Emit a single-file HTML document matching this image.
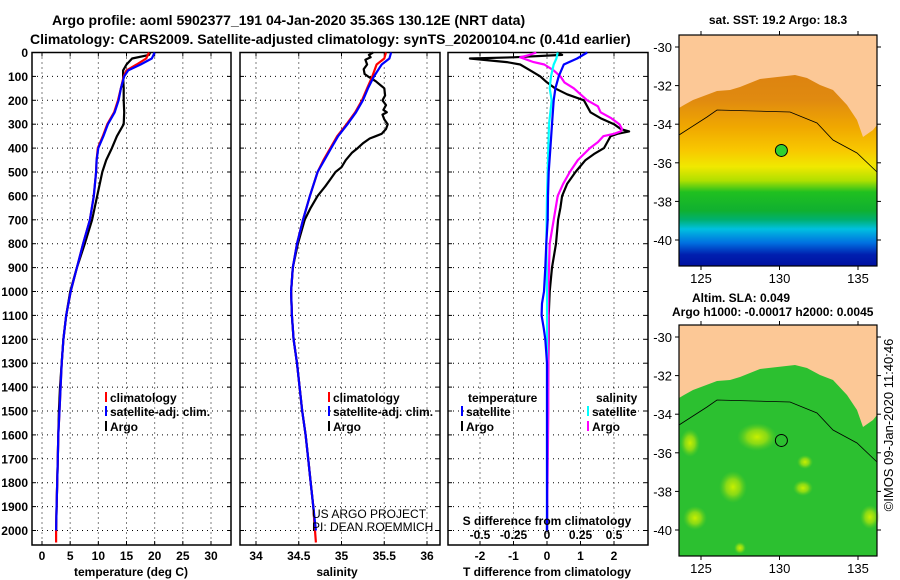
<!DOCTYPE html>
<html><head><meta charset="utf-8"><style>
html,body{margin:0;padding:0;background:#fff;}
svg{display:block;font-family:"Liberation Sans",sans-serif;font-weight:bold;}
</style></head><body>
<svg id="c" width="900" height="580" viewBox="0 0 900 580">
<defs>
<linearGradient id="sst" x1="0" y1="35" x2="0" y2="266" gradientUnits="userSpaceOnUse">
<stop offset="0" stop-color="#d87810"/><stop offset="0.28" stop-color="#e08a10"/><stop offset="0.4" stop-color="#f0a800"/>
<stop offset="0.5" stop-color="#f8c800"/><stop offset="0.57" stop-color="#f0e800"/><stop offset="0.63" stop-color="#b0e000"/>
<stop offset="0.68" stop-color="#20c020"/><stop offset="0.76" stop-color="#10b030"/><stop offset="0.8" stop-color="#00b070"/>
<stop offset="0.84" stop-color="#00c0e0"/><stop offset="0.9" stop-color="#0070e0"/><stop offset="0.95" stop-color="#0020b0"/><stop offset="1" stop-color="#0010a0"/>
</linearGradient>
<radialGradient id="blob"><stop offset="0" stop-color="#c8f000"/><stop offset="0.5" stop-color="#a0e010" stop-opacity="0.8"/><stop offset="1" stop-color="#60d020" stop-opacity="0"/></radialGradient>
</defs>
<g id="title" font-size="14">
<text x="52" y="25">Argo profile: aoml 5902377_191 04-Jan-2020 35.36S 130.12E (NRT data)</text>
<text x="30" y="44">Climatology: CARS2009. Satellite-adjusted climatology: synTS_20200104.nc (0.41d earlier)</text>
</g>
<g id="panels"></g>
<g id="maps"></g>
</svg>
<script>
// ---- data (depth in dbar) ----
const tDepthArgo = [0,10,25,50,75,100,150,200,250,300,350,400,450,500,600,700,800,900,1000,1100,1200,1300,1400,1500,1600,1700,1800,1900,2000];
const tArgo = [19.2,19.0,16.0,15.0,14.4,14.4,14.5,14.5,14.6,14.5,13.3,12.4,11.4,10.7,9.8,8.9,7.6,6.2,5.0,4.3,3.8,3.5,3.2,3.0,2.9,2.8,2.7,2.6,2.5];
const tDepthClim = [0,25,50,75,100,150,200,250,300,350,400,450,500,600,700,800,900,1000,1100,1200,1300,1400,1500,1600,1700,1800,1900,2000,2050];
const tClim = [19.0,18.5,16.8,15.0,14.5,14.0,13.5,12.8,11.6,10.8,9.9,9.7,9.6,9.2,8.5,7.3,6.2,5.1,4.3,3.8,3.5,3.3,3.1,2.9,2.8,2.7,2.6,2.5,2.5];
const tSat = [20.0,19.5,17.5,15.3,14.6,14.0,13.6,12.9,11.7,10.9,10.0,9.7,9.6,9.2,8.5,7.3,6.2,5.1,4.3,3.8,3.5,3.3,3.1,2.9,2.8,2.7,2.6,2.5];
const sDepthArgo = [0,10,20,30,50,70,90,100,120,150,180,200,220,240,250,260,280,300,320,340,350,360,380,400,420,450,480,500,530,560,600,650,700,800,900,1000,1100,1200,1300,1400,1500,1600,1700,1800,1900,2000];
const sArgo = [35.37,35.32,35.34,35.28,35.30,35.26,35.27,35.31,35.40,35.50,35.51,35.48,35.52,35.49,35.53,35.48,35.50,35.54,35.52,35.47,35.40,35.33,35.25,35.19,35.12,35.05,35.00,34.93,34.87,34.81,34.72,34.64,34.57,34.49,34.43,34.41,34.42,34.44,34.48,34.51,34.54,34.58,34.61,34.64,34.67,34.69];
const sDepthClim = [0,25,50,100,150,200,250,300,350,400,450,500,600,700,800,900,1000,1100,1200,1300,1400,1500,1600,1700,1800,1900,2000,2050];
const sClim = [35.52,35.50,35.41,35.36,35.30,35.24,35.16,35.06,34.95,34.87,34.79,34.72,34.63,34.55,34.48,34.43,34.41,34.42,34.44,34.48,34.51,34.54,34.58,34.61,34.64,34.67,34.69,34.70];
const sSat = [35.58,35.56,35.47,35.38,35.31,35.25,35.17,35.07,34.96,34.88,34.80,34.72,34.63,34.55,34.48,34.43,34.41,34.42,34.44,34.48,34.51,34.54,34.58,34.61,34.64,34.67,34.70];
const dtDepthArgo = [0,10,20,25,40,50,75,100,125,150,175,200,225,250,275,300,320,330,340,350,375,400,425,450,475,500,550,600,650,700,800,900,1000,1100,1200,1500,2000];
const dtArgo = [0.3,0.45,-1.0,-2.3,-1.2,-0.8,-0.5,-0.2,0.0,0.24,0.6,1.1,1.2,1.3,1.6,2.0,2.2,2.45,2.1,1.9,1.8,1.7,1.4,1.15,1.0,0.85,0.6,0.45,0.4,0.33,0.27,0.15,0.08,0.05,0.05,0.02,0.0];
const dsDepthArgo = [0,10,20,40,50,75,100,125,150,175,200,225,250,275,300,320,330,340,350,375,400,450,500,550,600,700,800,900,1000,1200,1500,2000];
const dsArgo = [-0.08,-0.13,-0.2,-0.1,-0.02,0.05,0.1,0.13,0.2,0.25,0.3,0.38,0.4,0.48,0.54,0.56,0.55,0.5,0.42,0.38,0.32,0.23,0.17,0.12,0.08,0.05,0.02,0.015,0.01,0.01,0.01,0.0];
const dsDepthSat = [0,25,50,100,150,200,300,400,500,600,800,1000,1200,1500,1800,2000];
const dsSat = [0.08,0.07,0.05,0.03,0.02,0.035,0.015,0.01,0.005,0.0,-0.005,0.0,0.0,0.0,0.0,0.0];
const dtDepthSat = [0,25,50,100,150,200,300,400,500,600,700,800,900,1000,1050,1100,1150,1200,1300,1400,2000];
const dtSat = [1.2,0.9,0.5,0.35,0.25,0.2,0.15,0.1,0.05,0.03,0.02,-0.02,-0.05,-0.09,-0.15,-0.16,-0.1,-0.05,0.0,0.0,0.0];
const depthTicks = [0,100,200,300,400,500,600,700,800,900,1000,1100,1200,1300,1400,1500,1600,1700,1800,1900,2000];
const tTicks = [0,5,10,15,20,25,30];
const sTicks = [34,34.5,35,35.5,36];
const dTTicks = [-2,-1,0,1,2];
const dSTicks = [-0.5,-0.25,0,0.25,0.5];
const mapLonTicks = [125,130,135];
const mapLatTicks = [-30,-32,-34,-36,-38,-40];
const floatLon = 130.12, floatLat = -35.36;

const NS='http://www.w3.org/2000/svg';
function mk(tag,attrs,parent){const e=document.createElementNS(NS,tag);for(const k in attrs)e.setAttribute(k,attrs[k]);parent.appendChild(e);return e;}
const panels=document.getElementById('panels');
const top0=52.5, pxPer100=23.9, bottom=545;
const yD=d=>top0+d*pxPer100/100;
function linX(v0,x0,v1,x1){return v=>x0+(v-v0)*(x1-x0)/(v1-v0);}
const xT=linX(0,42,30,211), xS=linX(34,256,36,427), xDT=linX(0,547,1,580.5), xDS=linX(0,547,0.5,614);

function frame(x0,x1,name){
  const g=mk('g',{},panels);
  
  
  return g;
}
function grid(g,x0,x1,xs){
  depthTicks.forEach(d=>{const l=mk('line',{x1:x0,x2:x1,y1:yD(d),y2:yD(d),stroke:'#000','stroke-width':1,'stroke-dasharray':'1 4'},g);
    
    mk('line',{x1:x0,x2:x0+4,y1:yD(d),y2:yD(d),stroke:'#000'},g);mk('line',{x1:x1-4,x2:x1,y1:yD(d),y2:yD(d),stroke:'#000'},g);});
  xs.forEach(x=>{const l=mk('line',{x1:x,x2:x,y1:top0,y2:bottom,stroke:'#000','stroke-width':1,'stroke-dasharray':'1 4'},g);
    
    mk('line',{x1:x,x2:x,y1:bottom,y2:bottom-4,stroke:'#000'},g);mk('line',{x1:x,x2:x,y1:top0,y2:top0+4,stroke:'#000'},g);});
  const r=mk('rect',{x:x0,y:top0,width:x1-x0,height:bottom-top0,fill:'none',stroke:'#000','stroke-width':1.5},g);
  
}
function line(g,depths,vals,sx,color,name,w){
  const pts=vals.map((v,i)=>sx(v).toFixed(1)+','+yD(depths[i]).toFixed(1)).join(' ');
  const p=mk('polyline',{points:pts,fill:'none',stroke:color,'stroke-width':w||2.2,'stroke-linejoin':'round'},g);
  
  
}
function txt(g,x,y,s,opts,name){const t=mk('text',Object.assign({x:x,y:y,'font-size':12},opts||{}),g);t.textContent=s;
  return t;}
function legendEntry(g,x,y,color,label){
  const gg=mk('g',{},g);
  
  
  mk('line',{x1:x,x2:x,y1:y-10,y2:y,stroke:color,'stroke-width':2},gg);
  const t=mk('text',{x:x+4,y:y,'font-size':12},gg);t.textContent=label;
}

const dl=mk('g',{},panels);


depthTicks.forEach(d=>{const t=mk('text',{x:28,y:yD(d)+4.5,'font-size':12,'text-anchor':'end'},dl);t.textContent=d;});

const g1=frame(32,231,'temperature-panel');
grid(g1,32,231,tTicks.map(xT));
line(g1,tDepthArgo,tArgo,xT,'#000','argo-temperature-line');
line(g1,tDepthClim,tClim,xT,'#f00','climatology-temperature-line');
line(g1,tDepthClim.slice(0,tSat.length),tSat,xT,'#00f','satellite-temperature-line');
tTicks.forEach(v=>txt(g1,xT(v),560,String(v),{'text-anchor':'middle'},'x-tick-label'));
txt(g1,131,576,'temperature (deg C)',{'text-anchor':'middle'},'x-axis-title');
legendEntry(g1,106,402,'#f00','climatology');
legendEntry(g1,106,416,'#00f','satellite-adj. clim.');
legendEntry(g1,106,431,'#000','Argo');

const g2=frame(240,440,'salinity-panel');
grid(g2,240,440,sTicks.map(xS));
line(g2,sDepthArgo,sArgo,xS,'#000','argo-salinity-line');
line(g2,sDepthClim,sClim,xS,'#f00','climatology-salinity-line');
line(g2,sDepthClim.slice(0,sSat.length),sSat,xS,'#00f','satellite-salinity-line');
sTicks.forEach(v=>txt(g2,xS(v),560,String(v),{'text-anchor':'middle'},'x-tick-label'));
txt(g2,337,576,'salinity',{'text-anchor':'middle'},'x-axis-title');
legendEntry(g2,329,402,'#f00','climatology');
legendEntry(g2,329,416,'#00f','satellite-adj. clim.');
legendEntry(g2,329,431,'#000','Argo');
txt(g2,312,518,'US ARGO PROJECT',{'font-weight':'normal'},'credit-project');
txt(g2,312,531,'PI: DEAN ROEMMICH',{'font-weight':'normal'},'credit-pi');

const g3=frame(448,648,'difference-panel');
grid(g3,448,648,dTTicks.map(xDT));
line(g3,dtDepthArgo,dtArgo,xDT,'#000','argo-temperature-difference-line');
line(g3,dsDepthArgo,dsArgo,xDS,'#f0f','argo-salinity-difference-line');
line(g3,dsDepthSat,dsSat,xDS,'#0ff','satellite-salinity-difference-line');
line(g3,dtDepthSat,dtSat,xDT,'#00f','satellite-temperature-difference-line');
dTTicks.forEach(v=>txt(g3,xDT(v),560,String(v),{'text-anchor':'middle'},'x-tick-label'));
dSTicks.forEach(v=>txt(g3,xDS(v),539,String(v),{'text-anchor':'middle'},'s-diff-tick-label'));
txt(g3,547,525,'S difference from climatology',{'text-anchor':'middle'},'s-diff-axis-title');
txt(g3,547,576,'T difference from climatology',{'text-anchor':'middle'},'x-axis-title');
txt(g3,468,402,'temperature',{},'legend-title-temperature');
txt(g3,596,402,'salinity',{},'legend-title-salinity');
legendEntry(g3,462,416,'#00f','satellite');
legendEntry(g3,462,431,'#000','Argo');
legendEntry(g3,588,416,'#0ff','satellite');
legendEntry(g3,588,431,'#f0f','Argo');

const maps=document.getElementById('maps');
const lonX=lon=>701+(lon-125)*15.7;
const coast=[[679,35],[877,35],[877,125],[873,130],[863,137],[857,120],[847,105],[833,90],[820,85],[807,78],[795,75],[760,79],[740,87],[730,90],[717,91],[693,100],[684,105],[679,108]];
const contour=[[679,135],[707,117],[717,110],[790,112],[817,123],[833,140],[857,153],[877,172]];
const blobs=[[757,437,20,14],[690,443,10,14],[733,487,14,16],[695,518,12,12],[870,517,10,12],[803,488,10,8],[805,462,8,7],[740,548,6,6]];
function drawMap(off,kind){
  const g=mk('g',{},maps);
  
  
  const latY=lat=>47+off+(-30-lat)*19.3;
  if(kind==='sst'){mk('rect',{x:679,y:35,width:198,height:231,fill:'url(#sst)'},g);}
  else{mk('rect',{x:679,y:35+off,width:198,height:231,fill:'#2cc030'},g);
    blobs.forEach(b=>{mk('ellipse',{cx:b[0],cy:b[1],rx:b[2],ry:b[3],fill:'url(#blob)'},g);});
  }
  mk('polygon',{points:coast.map(p=>p[0]+','+(p[1]+off)).join(' '),fill:'#fcc896'},g);
  mk('polyline',{points:contour.map(p=>p[0]+','+(p[1]+off)).join(' '),fill:'none',stroke:'#000','stroke-width':0.8},g);
  mk('rect',{x:679,y:35+off,width:198,height:231,fill:'none',stroke:'#000','stroke-width':1.2},g);
  const m=mk('circle',{cx:lonX(floatLon),cy:latY(floatLat),r:6,fill:kind==='sst'?'#30d030':'none',stroke:'#000','stroke-width':1},g);
  
  
  mapLonTicks.forEach(l=>{const x=lonX(l);mk('line',{x1:x,x2:x,y1:35+off,y2:31+off,stroke:'#000'},g);mk('line',{x1:x,x2:x,y1:266+off,y2:270+off,stroke:'#000'},g);
    txt(g,x,283+off,String(l),{'text-anchor':'middle','font-size':13,'font-weight':'normal'},'map-lon-tick-label');});
  mapLatTicks.forEach(l=>{const y=latY(l);mk('line',{x1:675,x2:679,y1:y,y2:y,stroke:'#000'},g);mk('line',{x1:877,x2:881,y1:y,y2:y,stroke:'#000'},g);
    txt(g,672,y+5,String(l),{'text-anchor':'end','font-size':13,'font-weight':'normal'},'map-lat-tick-label');});
}
drawMap(0,'sst');drawMap(290,'sla');
txt(maps,778,24,'sat. SST: 19.2 Argo: 18.3',{'text-anchor':'middle'},'sst-map-title');
txt(maps,692,302,'Altim. SLA: 0.049',{},'sla-map-title');
txt(maps,672,316,'Argo h1000: -0.00017 h2000: 0.0045',{},'argo-height-title');
txt(maps,0,0,'©IMOS 09-Jan-2020 11:40:46',{'font-weight':'normal','font-size':13,'text-anchor':'middle',transform:'translate(893,425) rotate(-90)'},'timestamp-credit');
</script>
</body></html>
